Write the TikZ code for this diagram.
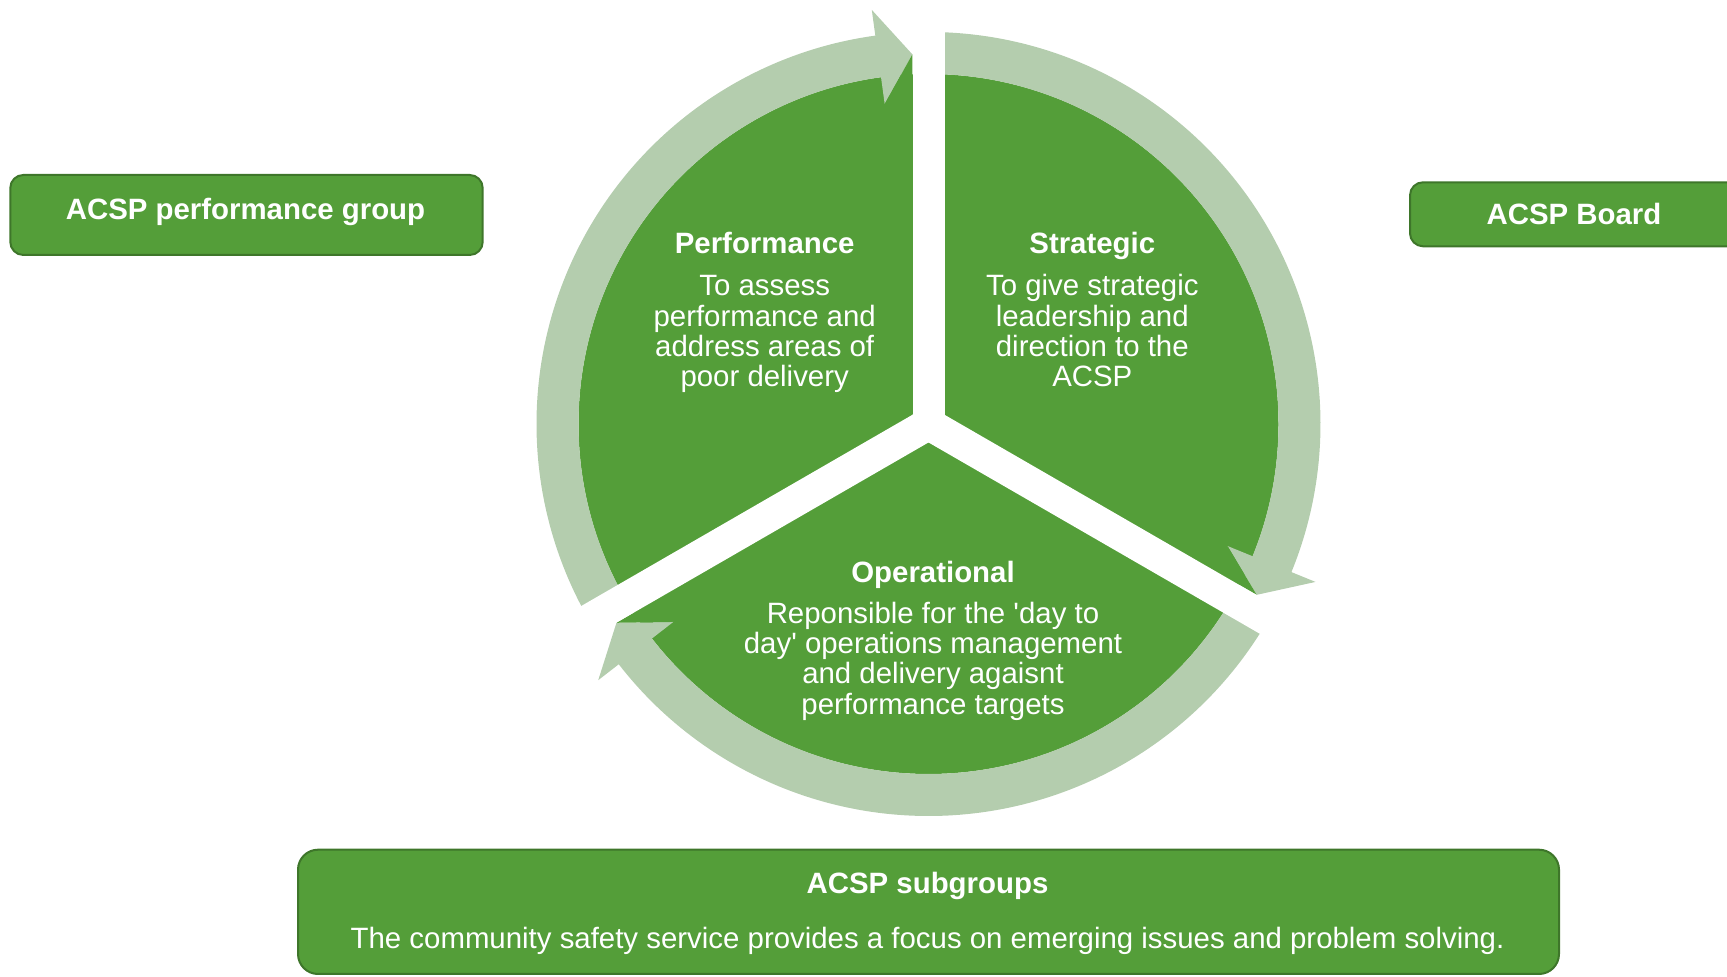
\documentclass[tikz,border=0pt]{standalone}
\usepackage{fontspec}
\setmainfont{Liberation Sans}
\usetikzlibrary{calc}
\definecolor{pie}{RGB}{84,158,57}
\definecolor{ring}{RGB}{180,205,174}
\definecolor{boxline}{RGB}{62,118,42}
\tikzset{
  gbox/.style={draw=boxline, line width=2pt, fill=pie, rounded corners=13pt, inner sep=0pt, anchor=south west},
  ttl/.style={text=white, font=\fontsize{29.4}{30}\selectfont\bfseries, inner sep=0pt, anchor=base},
  bodytxt/.style={text=white, font=\fontsize{29.4}{30}\selectfont, inner sep=0pt, anchor=base},
  gapline/.style={white, line width=32pt, line cap=butt},
}
\begin{document}
\begin{tikzpicture}[x=1pt,y=1pt]
\path[use as bounding box] (0,0) rectangle (1727,977);
\clip (0,0) rectangle (1727,977);
\coordinate (C) at (928.5,553);

% pie disk
\fill[pie] (C) circle[radius=350];

% ring bodies
\fill[ring] ($(C)+(210:392)$) arc[start angle=210,end angle=97,radius=392]
  -- ($(C)+(97:350)$) arc[start angle=97,end angle=210,radius=350] -- cycle;
\fill[ring] ($(C)+(90:392)$) arc[start angle=90,end angle=-23,radius=392]
  -- ($(C)+(-23:350)$) arc[start angle=-23,end angle=90,radius=350] -- cycle;
\fill[ring] ($(C)+(330:392)$) arc[start angle=330,end angle=217,radius=392]
  -- ($(C)+(217:350)$) arc[start angle=217,end angle=330,radius=350] -- cycle;

% arrow heads
\fill[ring] ($(C)+(92.5:370)$) -- ($(C)+(97.8:418)$) -- ($(C)+(97.8:323)$) -- cycle;
\fill[ring] ($(C)+(-27.5:370)$) -- ($(C)+(-22.2:418)$) -- ($(C)+(-22.2:323)$) -- cycle;
\fill[ring] ($(C)+(212.5:370)$) -- ($(C)+(217.8:418)$) -- ($(C)+(217.8:323)$) -- cycle;

% pie fill under the heads
\fill[pie] ($(C)+(92.5:370)$) -- ($(C)+(97.8:323)$) -- ($(C)+(92.71:338)$) -- cycle;
\fill[pie] ($(C)+(-27.5:370)$) -- ($(C)+(-22.2:323)$) -- ($(C)+(-27.29:338)$) -- cycle;
\fill[pie] ($(C)+(212.5:370)$) -- ($(C)+(217.8:323)$) -- ($(C)+(212.71:338)$) -- cycle;

% white gaps
\draw[gapline] (C) -- ++(90:440);
\draw[gapline] (C) -- ++(210:440);
\draw[gapline] (C) -- ++(330:440);
\fill[white] ($(C)+(30:18.5)$) -- ($(C)+(150:18.5)$) -- ($(C)+(270:18.5)$) -- cycle;

% pie texts
\node[ttl] (perft) at (764.7,723) {Performance};
\node[bodytxt] (perf1) at (764.7,681) {To assess};
\node[bodytxt] (perf2) at (764.7,650.8) {performance and};
\node[bodytxt] (perf3) at (764.7,620.6) {address areas of};
\node[bodytxt] (perf4) at (764.7,590.4) {poor delivery};

\node[ttl] (strt) at (1092.3,723) {Strategic};
\node[bodytxt] (str1) at (1092.3,681) {To give strategic};
\node[bodytxt] (str2) at (1092.3,650.8) {leadership and};
\node[bodytxt] (str3) at (1092.3,620.6) {direction to the};
\node[bodytxt] (str4) at (1092.3,590.4) {ACSP};

\node[ttl] (opt) at (933,394.3) {Operational};
\node[bodytxt] (op1) at (933,353.7) {Reponsible for the \textquotesingle day to};
\node[bodytxt] (op2) at (933,323.4) {day\textquotesingle{} operations management};
\node[bodytxt] (op3) at (933,293.1) {and delivery agaisnt};
\node[bodytxt] (op4) at (933,262.8) {performance targets};

% boxes
\node[gbox, minimum width=472.4pt, minimum height=80pt] (pgbox) at (9.3,721) {};
\node[ttl] (pgtxt) at (245.5,757.7) {ACSP performance group};

\node[gbox, minimum width=330pt, minimum height=64pt] (bdbox) at (1409,729.7) {};
\node[ttl] (bdtxt) at (1574,752) {ACSP Board};

\node[gbox, rounded corners=20pt, minimum width=1261pt, minimum height=124.3pt] (sgbox) at (297,2) {};
\node[ttl] (sgtitle) at (927.5,83.7) {ACSP subgroups};
\node[bodytxt] (sgbody) at (927.5,28) {The community safety service provides a focus on emerging issues and problem solving.};
\end{tikzpicture}
\end{document}
